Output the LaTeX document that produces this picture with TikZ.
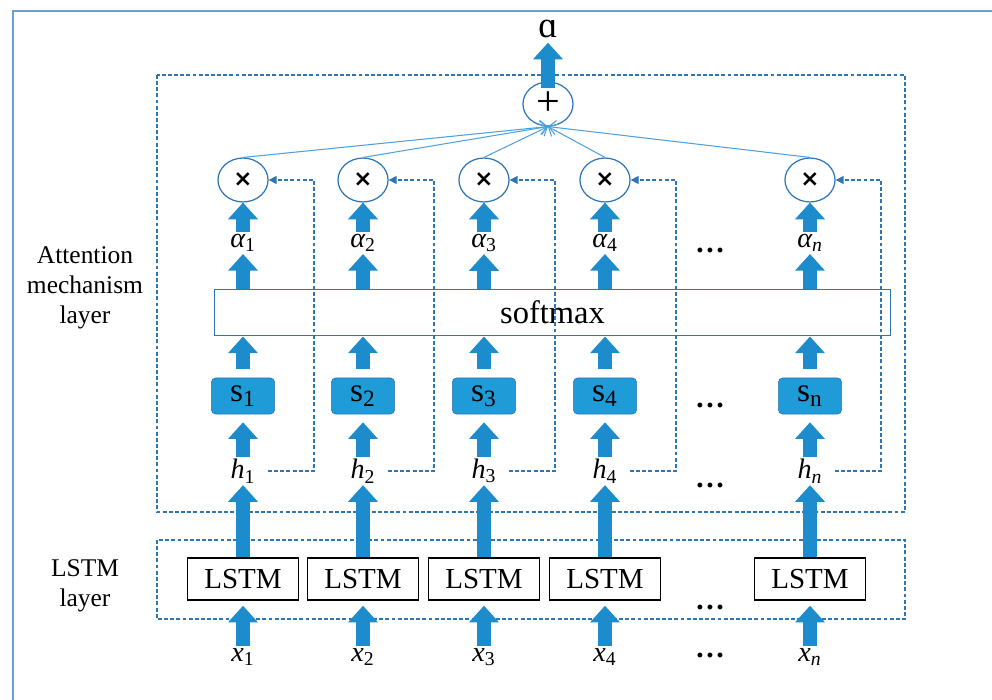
\documentclass[tikz,border=0pt]{standalone}
\usepackage{fontspec}
\setmainfont{Liberation Serif}
\newfontfamily\symfont{DejaVu Sans}
\usepackage{tikz}
\usetikzlibrary{arrows.meta,positioning,calc,shapes.geometric}
\definecolor{arrblue}{RGB}{29,140,204}
\definecolor{boxblue}{RGB}{31,155,215}
\definecolor{edgeblue}{RGB}{46,117,182}
\definecolor{lineblue}{RGB}{80,160,220}
\definecolor{framec}{RGB}{110,160,205}
\newcommand{\fsz}[2]{\fontsize{#1}{#2}\selectfont}

\begin{document}
\begin{tikzpicture}[x=0.02cm,y=-0.02cm,
  blk/.style={line width=8.5pt,draw=arrblue,-{Triangle[length=9.5pt,width=16.5pt]}},
  dashbox/.style={draw=edgeblue,line width=0.7pt,dash pattern=on 2.2pt off 1.3pt},
  dasharr/.style={dashbox,-{Triangle[length=4.5pt,width=4.5pt]}},
  opnode/.style={ellipse,draw=edgeblue,line width=0.7pt,fill=white,minimum width=28.5pt,minimum height=25pt,inner sep=0pt},
  sbox/.style={draw=edgeblue,fill=boxblue,rounded corners=2.5pt,minimum width=36pt,minimum height=20.5pt,inner sep=0pt,font=\fsz{19}{20}},
  lstmbox/.style={draw,line width=0.8pt,fill=white,minimum width=63pt,minimum height=24pt,inner sep=0pt,font=\fsz{16.5}{18}},
  lbl/.style={inner sep=1pt,font=\fsz{16}{18}}]
\useasboundingbox (0,0) rectangle (992,700);
\draw[framec,line width=1.2pt] (13,700) -- (13,11) -- (992,11);
% the two layers
\draw[dashbox] (157,75) rectangle (905,512);
\draw[dashbox] (157,540) rectangle (905,619);
\node[align=center,font=\fsz{14.5}{17}] (attl) at (85,288) {Attention\\mechanism\\layer};
\node[align=center,font=\fsz{14.5}{17}] (lstml) at (85,586) {LSTM\\layer};
% top
\node[font=\fsz{21}{22}] (out) at (548,29) {ɑ};
\node[opnode] (plus) at (548,104) {\fsz{24}{26}+};
\draw[blk,shorten <=-3.7pt,shorten >=-0.8pt] (plus) -- (out);
\node[draw=edgeblue,line width=0.7pt,minimum width=385pt,minimum height=26.6pt] (soft) at (552.5,312.5) {\fsz{18.5}{20}softmax};
% one column per time step
\foreach \i/\x/\sb in {1/243/1,2/363/2,3/484/3,4/605/4,n/810/{\itshape n}}{
  \node[opnode] (mul\i) at (\x,180) {\symfont\bfseries\fsz{13}{14}×};
  \node[lbl] (al\i) at (\x,243) {{\itshape α}\textsubscript{\sb}};
  \node[sbox] (s\i) at (\x,396) {s\textsubscript{\i}};
  \node[lbl] (h\i) at (\x,471) {{\itshape h}\textsubscript{\sb}};
  \node[lstmbox] (lstm\i) at (\x,579) {LSTM};
  \node[lbl] (x\i) at (\x,657) {{\itshape x}\textsubscript{\sb}};
  \coordinate (turn\i) at (\x+71,180);
  \draw[blk,shorten >=2.8pt] (x\i) -- (lstm\i);
  \draw[blk] (lstm\i) -- (h\i);
  \draw[blk,shorten >=4.5pt] (h\i) -- (s\i);
  \draw[blk,shorten <=5pt] (s\i) -- (s\i |- soft.south);
  \draw[blk] (al\i |- soft.north) -- (al\i);
  \draw[blk] (al\i) -- (mul\i);
  \draw[dasharr,shorten <=6pt] (h\i.east) -| (turn\i) -- (mul\i.east);
  \draw[lineblue,line width=0.6pt,-{Straight Barb[length=4pt]}] (mul\i.north) -- (plus.south);
}
\foreach \y [count=\k] in {250,405,485,607,655}
  \node[font=\bfseries\fsz{17}{18}] (dots\k) at (710,\y) {…};
\end{tikzpicture}
\end{document}
